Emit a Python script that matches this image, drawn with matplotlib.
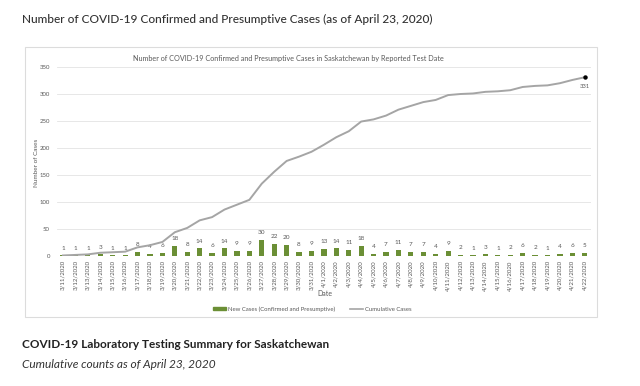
import matplotlib.pyplot as plt
from matplotlib.patches import Rectangle
from matplotlib.lines import Line2D
from matplotlib.patches import Patch
import numpy as np

# data
dates = ['3/11/2020', '3/12/2020', '3/13/2020', '3/14/2020', '3/15/2020', '3/16/2020',
         '3/17/2020', '3/18/2020', '3/19/2020', '3/20/2020', '3/21/2020', '3/22/2020',
         '3/23/2020', '3/24/2020', '3/25/2020', '3/26/2020', '3/27/2020', '3/28/2020',
         '3/29/2020', '3/30/2020', '3/31/2020', '4/1/2020', '4/2/2020', '4/3/2020',
         '4/4/2020', '4/5/2020', '4/6/2020', '4/7/2020', '4/8/2020', '4/9/2020',
         '4/10/2020', '4/11/2020', '4/12/2020', '4/13/2020', '4/14/2020', '4/15/2020',
         '4/16/2020', '4/17/2020', '4/18/2020', '4/19/2020', '4/20/2020', '4/21/2020',
         '4/22/2020']
new_cases = [1, 1, 1, 3, 1, 1, 8, 4, 6, 18, 8, 14, 6, 14, 9, 9, 30, 22, 20, 8, 9,
             13, 14, 11, 18, 4, 7, 11, 7, 7, 4, 9, 2, 1, 3, 1, 2, 6, 2, 1, 4, 6, 5]
cumulative = [1, 2, 3, 6, 7, 8, 16, 20, 26, 44, 52, 66, 72, 86, 95, 104, 134, 156,
              176, 184, 193, 206, 220, 231, 249, 253, 260, 271, 278, 285, 289, 298,
              300, 301, 304, 305, 307, 313, 315, 316, 320, 326, 331]

W, H = 640, 386
fig = plt.figure(figsize=(6.4, 3.86), dpi=100)
fig.patch.set_facecolor('white')

def fx(px):
    return px / W

def fy(py):
    return 1 - py / H

txt = '#595959'
font = 'Lato'
green = '#6B8F35'

# page headings
fig.text(fx(22), fy(19), 'Number of COVID-19 Confirmed and Presumptive Cases (as of April 23, 2020)',
         fontsize=8.6, color='#333333', family=font, weight='medium', va='center', ha='left')
fig.text(fx(22), fy(345), 'COVID-19 Laboratory Testing Summary for Saskatchewan',
         fontsize=8.5, color='#222222', family=font, weight='bold', va='center', ha='left')
fig.text(fx(22), fy(365), 'Cumulative counts as of April 23, 2020',
         fontsize=8.6, color='#333333', family=font, style='italic', va='center', ha='left')

# chart frame
fig.patches.append(Rectangle((fx(25), fy(317)), fx(597 - 25), (317 - 47) / H,
                             transform=fig.transFigure, fill=False,
                             edgecolor='#dcdcdc', lw=0.8))

fig.text(fx(288), fy(59), 'Number of COVID-19 Confirmed and Presumptive Cases in Saskatchewan by Reported Test Date',
         fontsize=5.2, color=txt, family=font, ha='center', va='center')

ax = fig.add_axes([fx(56.8), fy(256), fx(591 - 56.8), (256 - 67) / H])
x = np.arange(len(dates))

ax.bar(x, new_cases, width=0.42, color=green, zorder=3)
ax.plot(x, cumulative, color='#A5A5A5', lw=1.4, zorder=4)
ax.plot(x[-1], cumulative[-1], 'o', color='black', ms=2.2, zorder=5)
ax.annotate(str(cumulative[-1]), (x[-1], cumulative[-1]), xytext=(0, -7),
            textcoords='offset points', ha='center', va='center',
            fontsize=4.2, color=txt, family=font)

for xi, v in zip(x, new_cases):
    ax.annotate(str(v), (xi, v), xytext=(0, 3.5), textcoords='offset points',
                ha='center', va='bottom', fontsize=4.6, color=txt, family=font)

ax.set_xlim(-0.5, len(dates) - 0.5)
ax.set_ylim(0, 350)
ax.set_yticks(range(0, 351, 50))
ax.yaxis.grid(True, color='#e3e3e3', lw=0.6, zorder=0)
ax.set_axisbelow(True)
for s in ax.spines.values():
    s.set_visible(False)
ax.set_xticks(x)
ax.set_xticklabels(dates, rotation=90, fontsize=4.4, color=txt, family=font)
ax.tick_params(axis='both', length=0, pad=3)
ax.tick_params(axis='y', labelsize=4.3, labelcolor=txt, pad=5)
for t in ax.get_yticklabels():
    t.set_family(font)

fig.text(fx(37), fy(163), 'Number of Cases', rotation=90, fontsize=4.6,
         color=txt, family=font, ha='center', va='center')
fig.text(fx(325), fy(293), 'Date', fontsize=5, color=txt, family=font,
         ha='center', va='center')

handles = [Patch(color=green), Line2D([0], [0], color='#A5A5A5', lw=1.2)]
labels = ['New Cases (Confirmed and Presumptive)', 'Cumulative Cases']
fig.legend(handles, labels, loc='center', bbox_to_anchor=(fx(312), fy(309)),
           ncol=2, frameon=False, prop={'family': font, 'size': 4.3},
           labelcolor=txt, handlelength=2.2, handleheight=0.5, columnspacing=2.5,
           handletextpad=0.3)

fig.savefig('out.png', dpi=100)
